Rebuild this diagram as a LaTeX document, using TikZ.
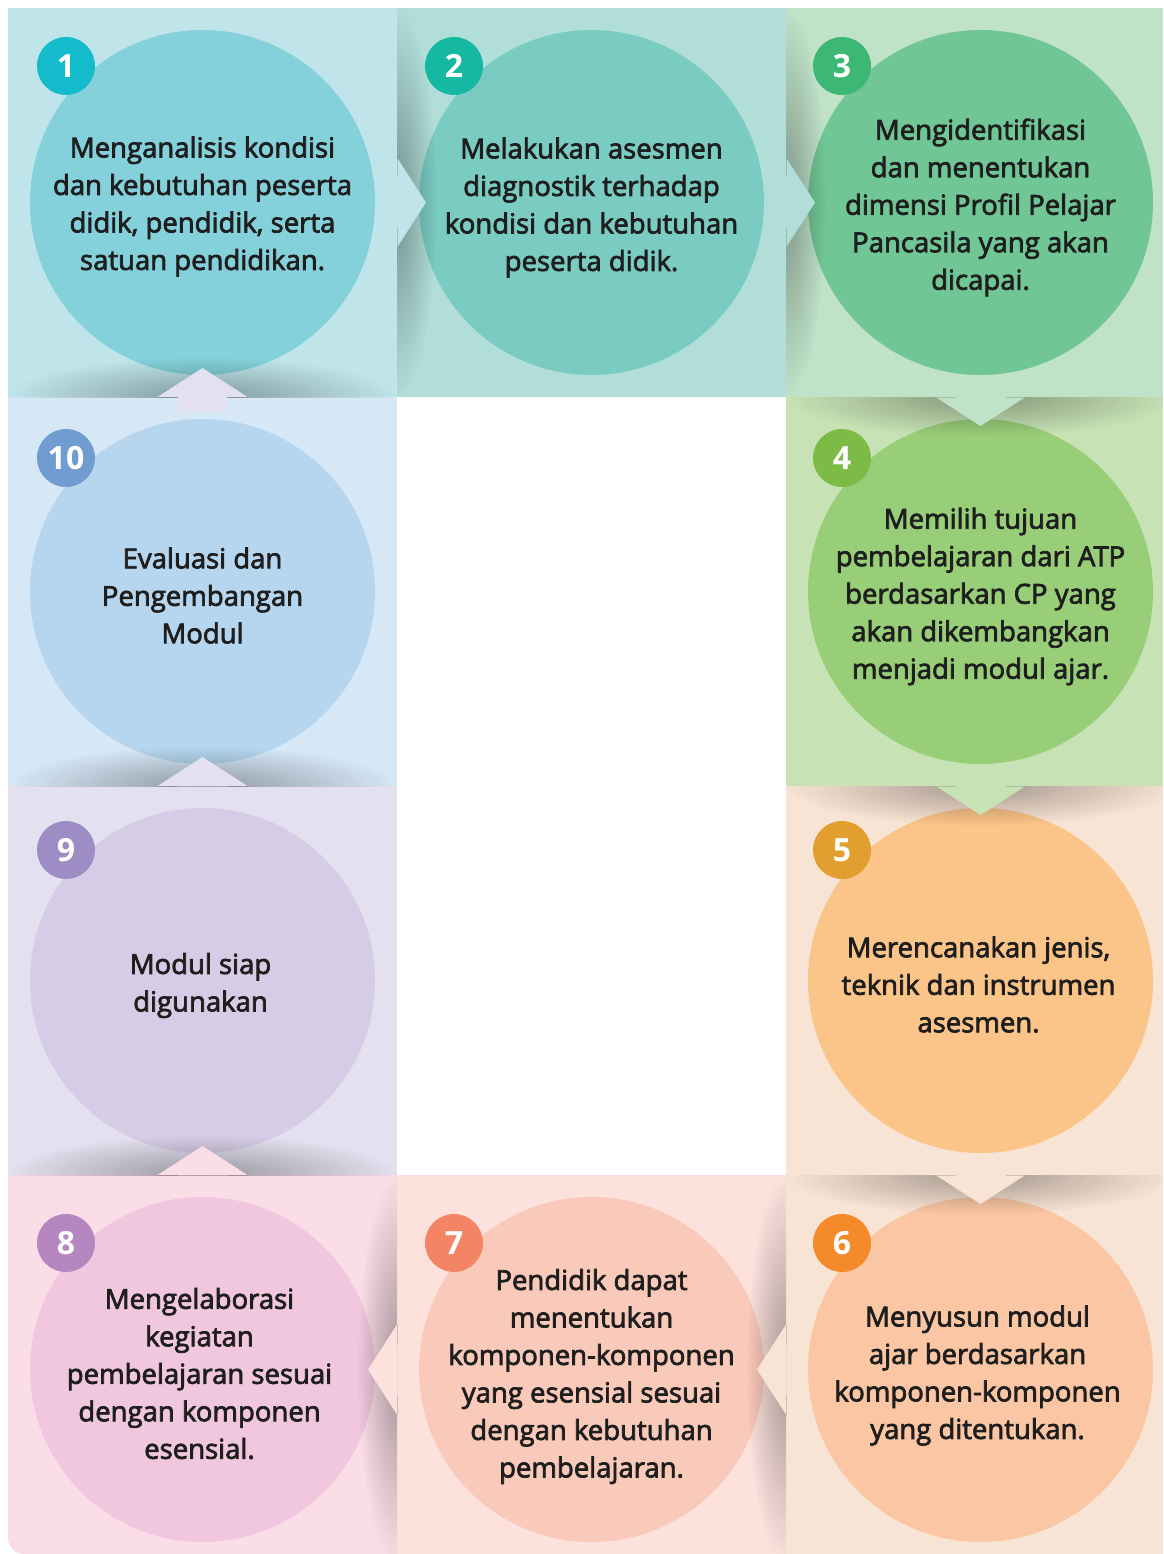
\documentclass[tikz,border=0pt]{standalone}
\usepackage{fontspec}
\setmainfont{Open Sans}[UprightFeatures={FakeBold=2.6}]
\usetikzlibrary{fadings}
\definecolor{bg1}{HTML}{BFE5EA}\definecolor{ci1}{HTML}{84D1DB}\definecolor{bd1}{HTML}{14BBCB}
\definecolor{bg2}{HTML}{B1DED9}\definecolor{ci2}{HTML}{7ACBC1}\definecolor{bd2}{HTML}{15B9A1}
\definecolor{bg3}{HTML}{BFE2C9}\definecolor{ci3}{HTML}{71C695}\definecolor{bd3}{HTML}{3CB774}
\definecolor{bg4}{HTML}{C7E3B5}\definecolor{ci4}{HTML}{99CE78}\definecolor{bd4}{HTML}{7DBB47}
\definecolor{bg5}{HTML}{F8E4D4}\definecolor{ci5}{HTML}{FBC488}\definecolor{bd5}{HTML}{E29E2F}
\definecolor{bg6}{HTML}{F8E4D4}\definecolor{ci6}{HTML}{FAC6A3}\definecolor{bd6}{HTML}{F58A2B}
\definecolor{bg7}{HTML}{FCE1DD}\definecolor{ci7}{HTML}{F9C9BA}\definecolor{bd7}{HTML}{F38565}
\definecolor{bg8}{HTML}{FBDDE7}\definecolor{ci8}{HTML}{F1C7DF}\definecolor{bd8}{HTML}{B586BF}
\definecolor{bg9}{HTML}{E3E0EF}\definecolor{ci9}{HTML}{D7CCE5}\definecolor{bd9}{HTML}{9E8CC5}
\definecolor{bg10}{HTML}{D6E7F6}\definecolor{ci10}{HTML}{B5D6EE}\definecolor{bd10}{HTML}{709CD2}
\definecolor{ink}{HTML}{1E1E1E}
\tikzfading[name=shfade, inner color=transparent!0, outer color=transparent!100]
\tikzset{
  cellbox/.style={rectangle, inner sep=0pt, outer sep=0pt, anchor=north west, draw=none},
  disc/.style={circle, inner sep=0pt, outer sep=0pt, minimum size=345pt, draw=none},
  badge/.style={circle, inner sep=0pt, minimum size=58pt, text=white, font=\fontsize{32}{32}\selectfont\bfseries},
  txt/.style={align=center, text=ink, inner sep=0pt, font=\fontsize{27.5}{37.5}\selectfont},
  seam/.style={draw=black, opacity=0.15, line width=1pt},
  shade/.style={fill=black, opacity=0.33, path fading=shfade}
}
\newcommand{\ArrRight}[2]{\fill[#2] (#1) ++(0,-45) -- ++(29,45) -- ++(-29,45) -- cycle;
  \draw[seam] (#1) ++(0,-45) -- ++(0,20) (#1) ++(0,25) -- ++(0,20);}
\newcommand{\ArrLeft}[2]{\fill[#2] (#1) ++(0,-45) -- ++(-29,45) -- ++(29,45) -- cycle;
  \draw[seam] (#1) ++(0,-45) -- ++(0,20) (#1) ++(0,25) -- ++(0,20);}
\newcommand{\ArrDown}[2]{\fill[#2] (#1) ++(-45,0) -- ++(45,29) -- ++(45,-29) -- cycle;
  \draw[seam] (#1) ++(-45,0) -- ++(20,0) (#1) ++(25,0) -- ++(20,0);}
\newcommand{\ArrUp}[2]{\fill[#2] (#1) ++(-45,0) -- ++(45,-29) -- ++(45,29) -- cycle;
  \draw[seam] (#1) ++(-45,0) -- ++(20,0) (#1) ++(25,0) -- ++(20,0);}
\begin{document}
\begin{tikzpicture}[x=1pt,y=-1pt]
\useasboundingbox (0,0) rectangle (1163,1554);
\fill[white] (0,0) rectangle (1163,1554);
% cells
\begin{scope}
\clip (8,1175) rectangle (397,1554);
\node[cellbox, fill=bg8, rounded corners=16pt, minimum width=412pt, minimum height=404pt] (k8) at (8,1150) {};
\end{scope}
\node[cellbox, fill=bg1, minimum width=389pt, minimum height=389pt] (k1) at (8,8) {};
\node[cellbox, fill=bg2, minimum width=389pt, minimum height=389pt] (k2) at (397,8) {};
\node[cellbox, fill=bg3, minimum width=377pt, minimum height=389pt] (k3) at (786,8) {};
\node[cellbox, fill=bg10, minimum width=389pt, minimum height=389pt] (k10) at (8,397) {};
\node[cellbox, fill=bg4, minimum width=377pt, minimum height=389pt] (k4) at (786,397) {};
\node[cellbox, fill=bg9, minimum width=389pt, minimum height=389pt] (k9) at (8,786) {};
\node[cellbox, fill=bg5, minimum width=377pt, minimum height=389pt] (k5) at (786,786) {};
\node[cellbox, fill=bg7, minimum width=389pt, minimum height=379pt] (k7) at (397,1175) {};
\node[cellbox, fill=bg6, minimum width=377pt, minimum height=379pt] (k6) at (786,1175) {};
% circles
\node[disc, fill=ci1] (c1) at (202.5,202.5) {};
\node[disc, fill=ci2] (c2) at (591.5,202.5) {};
\node[disc, fill=ci3] (c3) at (980.5,202.5) {};
\node[disc, fill=ci4] (c4) at (980.5,591.5) {};
\node[disc, fill=ci5] (c5) at (980.5,980.5) {};
\node[disc, fill=ci6] (c6) at (980.5,1369.5) {};
\node[disc, fill=ci7] (c7) at (591.5,1369.5) {};
\node[disc, fill=ci8] (c8) at (202.5,1369.5) {};
\node[disc, fill=ci9] (c9) at (202.5,980.5) {};
\node[disc, fill=ci10] (c10) at (202.5,591.5) {};
% junction points
\coordinate (j12) at (c1 -| k2.west);
\coordinate (j23) at (c2 -| k3.west);
\coordinate (j34) at (c3 |- k4.north);
\coordinate (j45) at (c4 |- k5.north);
\coordinate (j56) at (c5 |- k6.north);
\coordinate (j67) at (c6 -| k6.west);
\coordinate (j78) at (c7 -| k7.west);
\coordinate (j89) at (c8 |- k7.north);
\coordinate (j910) at (c9 |- k9.north);
\coordinate (j101) at (c10 |- k10.north);
% shadows
\begin{scope}\clip (k2.north west) rectangle (k2.south east);
\fill[shade] (j12) ellipse [x radius=40pt, y radius=195pt];\end{scope}
\begin{scope}\clip (k3.north west) rectangle (k3.south east);
\fill[shade] (j23) ellipse [x radius=40pt, y radius=195pt];\end{scope}
\begin{scope}\clip (k4.north west) rectangle (k4.south east);
\fill[shade] (j34) ellipse [x radius=195pt, y radius=40pt];\end{scope}
\begin{scope}\clip (k5.north west) rectangle (k5.south east);
\fill[shade] (j45) ellipse [x radius=195pt, y radius=40pt];\end{scope}
\begin{scope}\clip (k6.north west) rectangle (k6.south east);
\fill[shade] (j56) ellipse [x radius=195pt, y radius=40pt];\end{scope}
\begin{scope}\clip (k7.north west) rectangle (k7.south east);
\fill[shade] (j67) ellipse [x radius=40pt, y radius=195pt];\end{scope}
\begin{scope}\clip (8,1175) rectangle (397,1554);
\fill[shade] (j78) ellipse [x radius=40pt, y radius=195pt];\end{scope}
\begin{scope}\clip (k9.north west) rectangle (k9.south east);
\fill[shade] (j89) ellipse [x radius=195pt, y radius=40pt];\end{scope}
\begin{scope}\clip (k10.north west) rectangle (k10.south east);
\fill[shade] (j910) ellipse [x radius=195pt, y radius=40pt];\end{scope}
\begin{scope}\clip (k1.north west) rectangle (k1.south east);
\fill[shade] (j101) ellipse [x radius=195pt, y radius=40pt];\end{scope}
% arrows
\ArrRight{j12}{bg1}
\ArrRight{j23}{bg2}
\ArrDown{j34}{bg3}
\ArrDown{j45}{bg4}
\ArrDown{j56}{bg5}
\ArrLeft{j67}{bg6}
\ArrLeft{j78}{bg7}
\ArrUp{j89}{bg8}
\ArrUp{j910}{bg9}
\ArrUp{j101}{bg9}
\fill[bg9] (j101) ++(-24.5,0) rectangle ++(49,15);
% badges
\node[badge, fill=bd1] (n1) at (66,66) {1};
\node[badge, fill=bd2] (n2) at (454,66) {2};
\node[badge, fill=bd3] (n3) at (842,66) {3};
\node[badge, fill=bd4] (n4) at (842,458) {4};
\node[badge, fill=bd5] (n5) at (842,850) {5};
\node[badge, fill=bd6] (n6) at (842,1243) {6};
\node[badge, fill=bd7] (n7) at (454,1243) {7};
\node[badge, fill=bd8] (n8) at (66,1243) {8};
\node[badge, fill=bd9] (n9) at (66,850) {9};
\node[badge, fill=bd10] (n10) at (66,458) {10};
% texts
\node[txt] (t1) at ([yshift=-4pt]c1.center) {Menganalisis kondisi\\dan kebutuhan peserta\\didik, pendidik, serta\\satuan pendidikan.};
\node[txt] (t2) at ([yshift=-5pt]c2.center) {Melakukan asesmen\\diagnostik terhadap\\kondisi dan kebutuhan\\peserta didik.};
\node[txt] (t3) at ([yshift=-5pt]c3.center) {Mengidentifikasi\\dan menentukan\\dimensi Profil Pelajar\\Pancasila yang akan\\dicapai.};
\node[txt] (t4) at ([yshift=-5pt]c4.center) {Memilih tujuan\\pembelajaran dari ATP\\berdasarkan CP yang\\akan dikembangkan\\menjadi modul ajar.};
\node[txt] (t5) at ([xshift=-2pt,yshift=-4pt]c5.center) {Merencanakan jenis,\\teknik dan instrumen\\asesmen.};
\node[txt] (t6) at ([xshift=-3pt,yshift=-6pt]c6.center) {Menyusun modul\\ajar berdasarkan\\komponen-komponen\\yang ditentukan.};
\node[txt] (t7) at ([yshift=-7pt]c7.center) {Pendidik dapat\\menentukan\\komponen-komponen\\yang esensial sesuai\\dengan kebutuhan\\pembelajaran.};
\node[txt] (t8) at ([xshift=-3pt,yshift=-4pt]c8.center) {Mengelaborasi\\kegiatan\\pembelajaran sesuai\\dengan komponen\\esensial.};
\node[txt] (t9) at ([xshift=-2pt,yshift=-5pt]c9.center) {Modul siap\\digunakan};
\node[txt] (t10) at ([yshift=-4pt]c10.center) {Evaluasi dan\\Pengembangan\\Modul};
\end{tikzpicture}
\end{document}
